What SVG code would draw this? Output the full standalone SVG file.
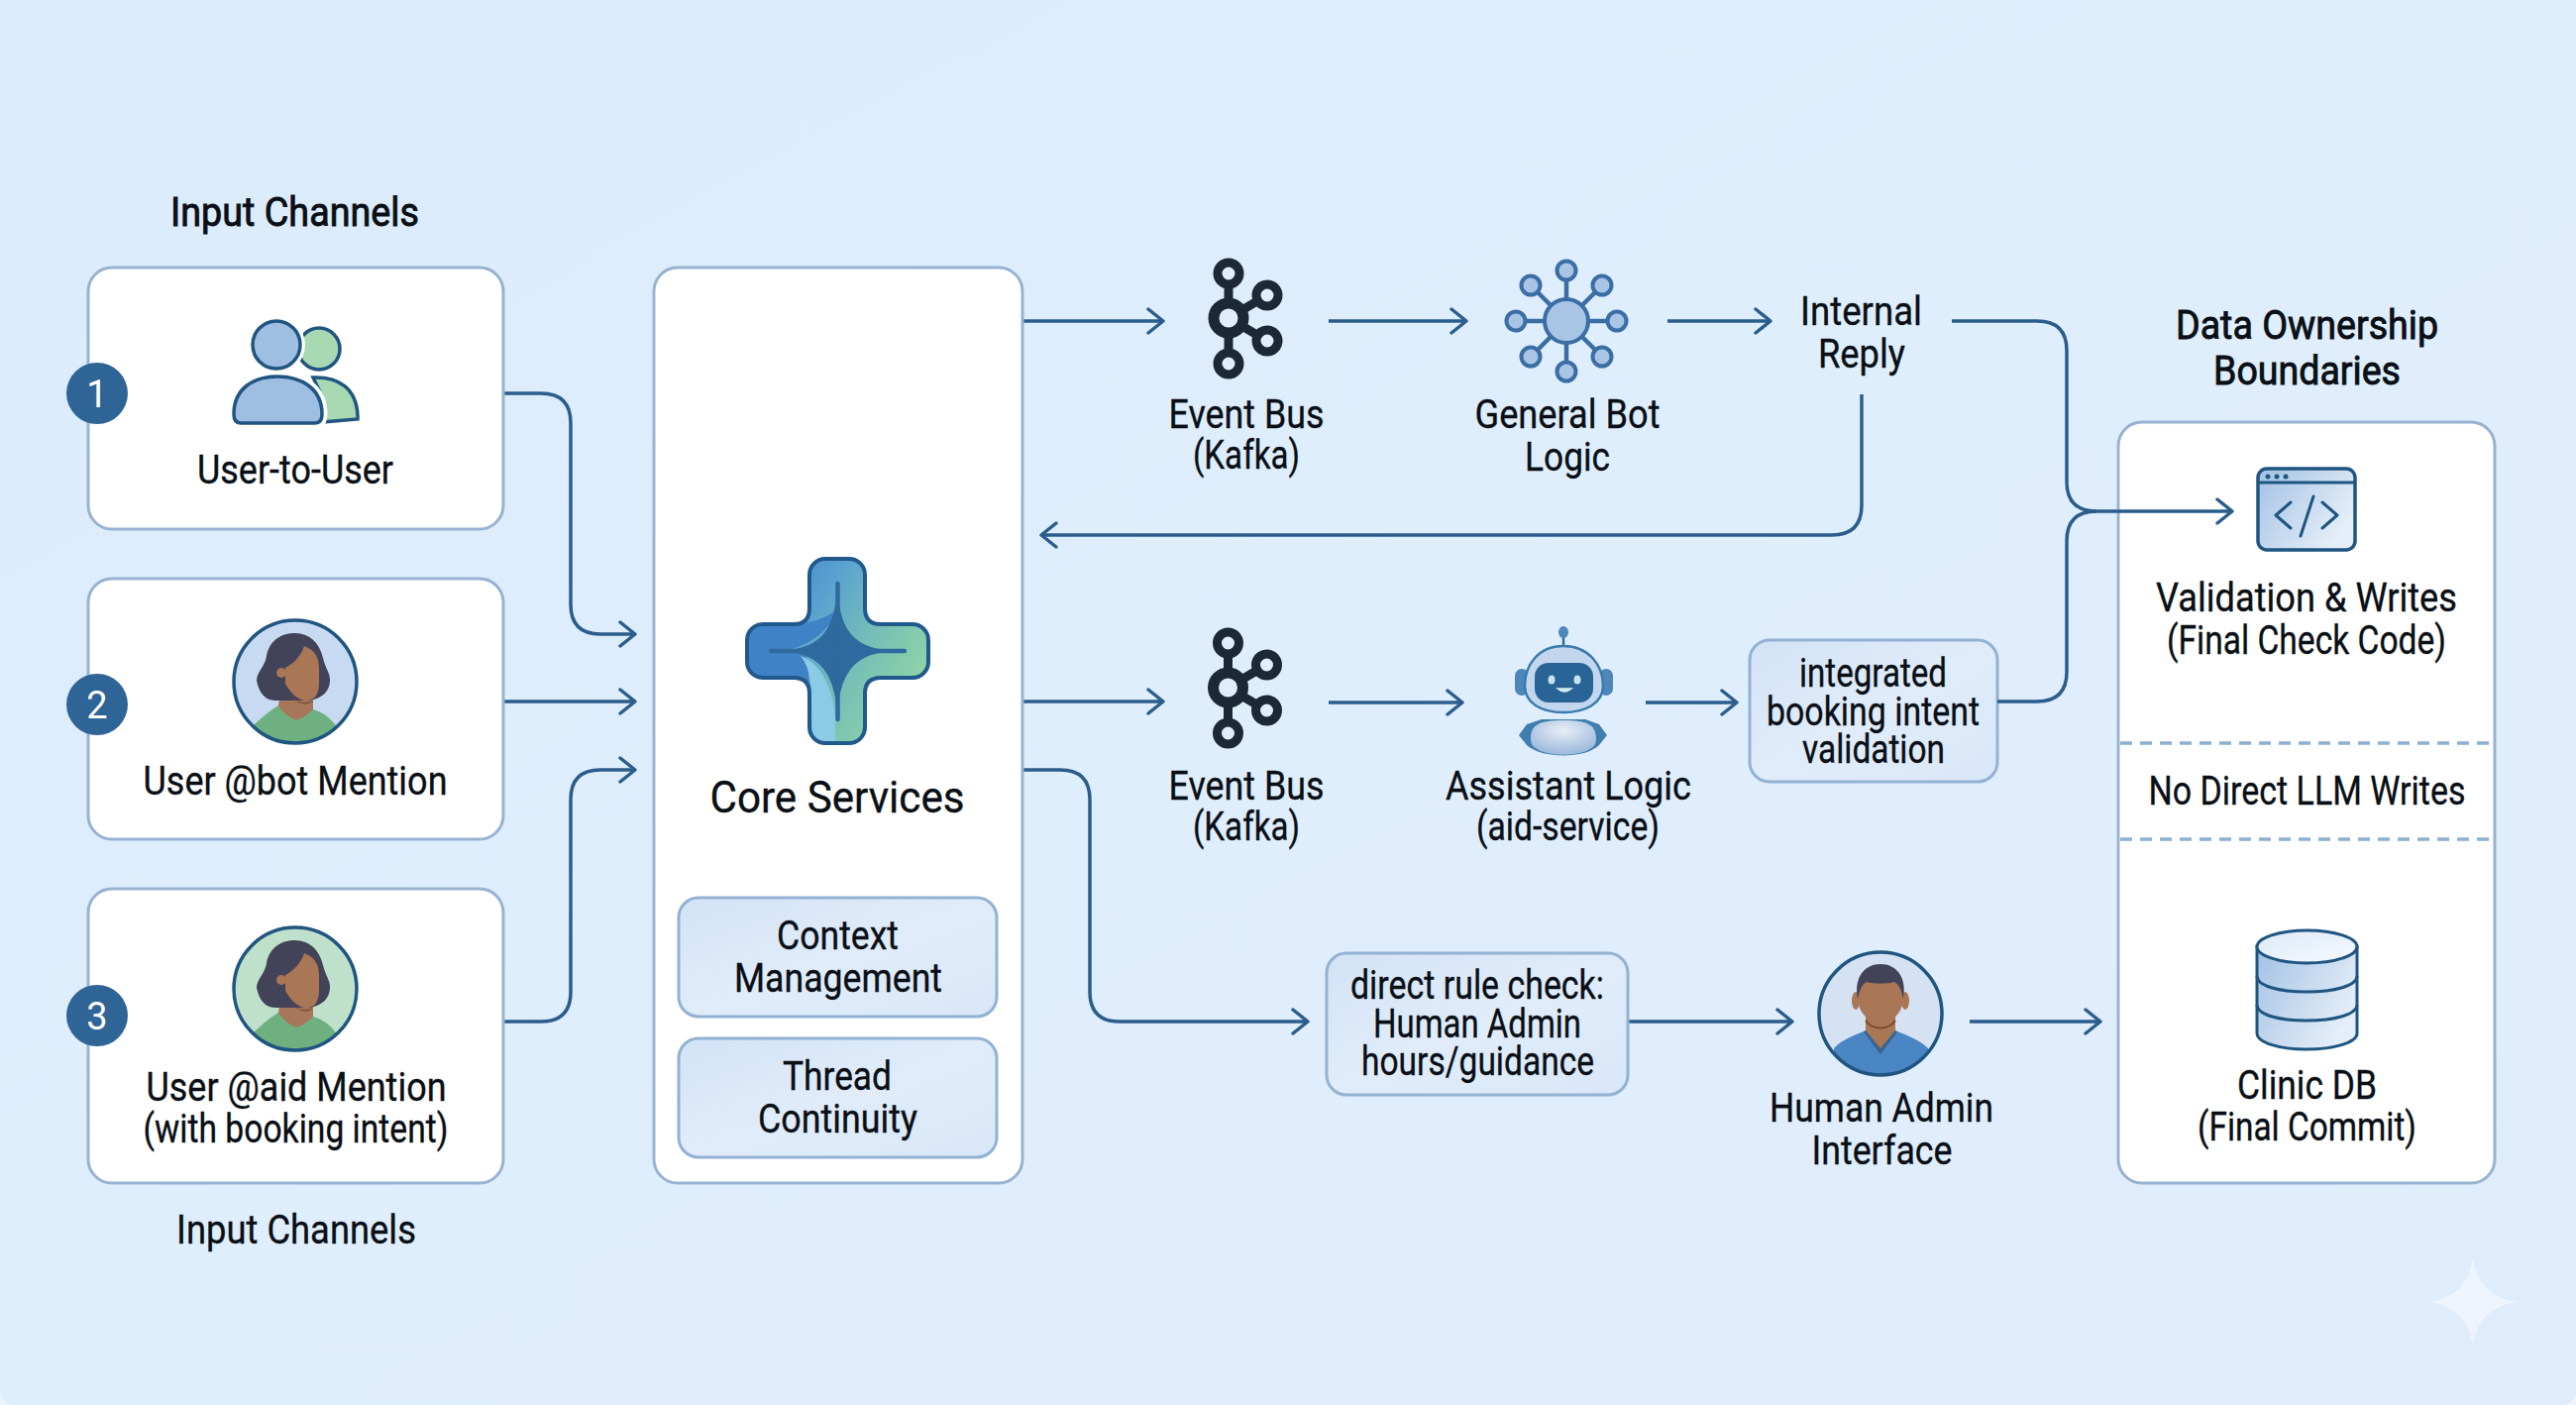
<svg xmlns="http://www.w3.org/2000/svg" width="2600" height="1418" viewBox="0 0 2600 1418">
<style>
text{font-family:Roboto,"Liberation Sans",sans-serif;fill:#0a0f15;stroke:#0a0f15;stroke-width:.35;text-anchor:middle;font-size:41px}
.head{stroke-width:.9}
.card{fill:#fff;stroke:#98b3d1;stroke-width:3}
.soft{fill:url(#soft);stroke:#93b2d3;stroke-width:3}
.c{fill:none;stroke:#2b5d8c;stroke-width:3.5;marker-end:url(#a)}
.p{fill:none;stroke:#2b5d8c;stroke-width:3.5}
.badge{fill:#2f6496}
.badge-t{fill:#fff;stroke:none;font-size:38px}
.k{fill:none;stroke:#1c2836}
.dash{stroke:#8fb0d0;stroke-width:3.5;stroke-dasharray:12 8}
.i{fill:#a9c5e5;stroke:#3a6ea5;stroke-width:4}
.ol{stroke:#1f5580;stroke-width:3.5}
</style>
<defs>
<linearGradient id="bg" x1="0" y1="0" x2="1" y2="1"><stop offset="0" stop-color="#daebfb"/><stop offset="0.5" stop-color="#dfeefd"/><stop offset="1" stop-color="#dfecfc"/></linearGradient>
<linearGradient id="soft" x1="0" y1="0" x2="1" y2="1"><stop offset="0" stop-color="#d2e3f6"/><stop offset="0.5" stop-color="#e0ecfa"/><stop offset="1" stop-color="#d8e7f8"/></linearGradient>
<linearGradient id="cross" x1="0" y1="0.15" x2="1" y2="0.75"><stop offset="0" stop-color="#3c7fc6"/><stop offset="0.35" stop-color="#5aa3d0"/><stop offset="0.6" stop-color="#74bcb8"/><stop offset="1" stop-color="#97daa2"/></linearGradient>
<linearGradient id="ig" x1="0" y1="0" x2="1" y2="0.6"><stop offset="0" stop-color="#a2c1e4"/><stop offset="1" stop-color="#e6eff9"/></linearGradient>
<linearGradient id="top" x1="0" y1="0" x2="1" y2="1"><stop offset="0" stop-color="#dce9f7"/><stop offset="1" stop-color="#f6faff"/></linearGradient>
<radialGradient id="body" cx="0.5" cy="0.3" r="0.8"><stop offset="0" stop-color="#e8eef7"/><stop offset="1" stop-color="#8fb0d6"/></radialGradient>
<marker id="a" viewBox="-18 -15 20 30" refX="0" refY="0" markerWidth="20" markerHeight="30" markerUnits="userSpaceOnUse" orient="auto"><path d="M-15-12 0 0-15 12" fill="none" stroke="#2b5d8c" stroke-width="3.5" stroke-linecap="round" stroke-linejoin="round"/></marker>
<g id="kafka" class="k">
<path d="M0-45V45M0 0 39-23M0 0 39 23" stroke-width="9"/>
<circle r="15" stroke-width="11" fill="#e0edfc"/>
<circle cy="-45" r="11" stroke-width="9" fill="#e0edfc"/>
<circle cy="46" r="11" stroke-width="9" fill="#e0edfc"/>
<circle cx="39" cy="-23" r="11" stroke-width="9" fill="#e0edfc"/>
<circle cx="39" cy="23" r="11" stroke-width="9" fill="#e0edfc"/>
</g>
<clipPath id="av"><circle r="62"/></clipPath>
<clipPath id="crossclip"><path d="M817 580A16 16 0 0 1 833 564H857A16 16 0 0 1 873 580V614Q873 630 889 630H921A16 16 0 0 1 937 646V668A16 16 0 0 1 921 684H889Q873 684 873 700V734A16 16 0 0 1 857 750H833A16 16 0 0 1 817 734V700Q817 684 801 684H770A16 16 0 0 1 754 668V646A16 16 0 0 1 770 630H801Q817 630 817 614Z"/></clipPath>
<g id="woman" clip-path="url(#av)">
<path d="M-44 46C-34 36-24 28-17 24L-15 15H18V28C26 30 36 36 42 46L42 64H-44Z" fill="#6fb080"/>
<path d="M-15 12H18V28C10 36 2 40-2 38C-8 34-14 30-17 24Z" fill="#a8775a"/>
<path d="M0-49C14-49 24-40 28-24C30-14 36-8 35 0C34 10 28 16 15 19H-17C-28 20-36 14-39-1C-39-10-30-16-29-26C-26-42-14-49 0-49Z" fill="#424358"/>
<path d="M9-36C20-32 24-24 24-14V2C24 14 18 20 10 19C2 18-4 12-10 2L-10-14C-2-18 6-26 9-36Z" fill="#a97656"/>
<circle cx="-14" cy="-9" r="5" fill="#a97656"/>
<path d="M-5 15C2 21 8 22 18 19C14 25 4 24-5 15Z" fill="#84593f"/>
</g>
</defs>
<rect width="2600" height="1418" fill="#eef5fd"/>
<path d="M0 0H2600V1404A14 14 0 0 1 2586 1418H14A14 14 0 0 1 0 1404Z" fill="url(#bg)"/>
<path id="sparkle" d="M2496 1269C2500 1296 2514 1310 2541 1314C2514 1318 2500 1332 2496 1359C2492 1332 2478 1318 2451 1314C2478 1310 2492 1296 2496 1269Z" fill="#edf4fd"/>

<g id="connectors">
<path class="c" d="M508 397H546Q576 397 576 427V610Q576 640 606 640H641"/>
<path class="c" d="M508 708H641"/>
<path class="c" d="M508 1031H546Q576 1031 576 1001V807Q576 777 606 777H641"/>
<path class="c" d="M1032 324H1174"/>
<path class="c" d="M1341 324H1480"/>
<path class="c" d="M1683 324H1787"/>
<path class="c" d="M1879 398V510Q1879 540 1849 540H1051"/>
<path class="c" d="M1032 708H1174"/>
<path class="c" d="M1341 709H1476"/>
<path class="c" d="M1661 709H1753"/>
<path class="c" d="M1032 777H1070Q1100 777 1100 807V1001Q1100 1031 1130 1031H1320"/>
<path class="c" d="M1643 1031H1809"/>
<path class="c" d="M1988 1031H2120"/>
</g>

<g id="node-user-to-user">
<rect class="card" x="89" y="270" width="419" height="264" rx="24"/>
<circle cx="322" cy="352" r="21" fill="#a9d9b2" stroke="#1f5580" stroke-width="3.5"/>
<path d="M316 381C342 380 360 392 361 420V423L325 426V400Z" fill="#a9d9b2" stroke="#1f5580" stroke-width="3.5"/>
<circle cx="279" cy="348" r="29" fill="#fff"/>
<circle cx="279" cy="348" r="24" fill="#9fbfe2" class="ol"/>
<path d="M236 418C236 392 256 380 280 380C304 380 325 392 325 418C325 424 323 427 318 427H243C238 427 236 424 236 418Z" fill="#fff" stroke="#fff" stroke-width="11"/>
<path d="M236 418C236 392 256 380 280 380C304 380 325 392 325 418C325 424 323 427 318 427H243C238 427 236 424 236 418Z" fill="#9fbfe2" class="ol"/>
<text x="298" y="488" textLength="198" lengthAdjust="spacingAndGlyphs">User-to-User</text>
</g>
<g id="node-user-bot">
<rect class="card" x="89" y="584" width="419" height="263" rx="24"/>
<g transform="translate(298 688)"><circle r="62" fill="#c8daf1"/><use href="#woman"/><circle r="62" fill="none" stroke="#1f5580" stroke-width="3.5"/></g>
<text x="298" y="802" textLength="307" lengthAdjust="spacingAndGlyphs">User @bot Mention</text>
</g>
<g id="node-user-aid">
<rect class="card" x="89" y="897" width="419" height="297" rx="24"/>
<g transform="translate(298 998)"><circle r="62" fill="#bfe1cb"/><use href="#woman"/><circle r="62" fill="none" stroke="#1f5580" stroke-width="3.5"/></g>
<text x="299" y="1111" textLength="303" lengthAdjust="spacingAndGlyphs">User @aid Mention</text>
<text x="298.500" y="1153" textLength="308" lengthAdjust="spacingAndGlyphs">(with booking intent)</text>
</g>
<g id="badge-1"><circle class="badge" cx="98" cy="397" r="31"/><text class="badge-t" x="98" y="411">1</text></g>
<g id="badge-2"><circle class="badge" cx="98" cy="711" r="31"/><text class="badge-t" x="98" y="725">2</text></g>
<g id="badge-3"><circle class="badge" cx="98" cy="1025" r="31"/><text class="badge-t" x="98" y="1039">3</text></g>
<text id="label-input-top" class="head" x="297.500" y="228" textLength="251" lengthAdjust="spacingAndGlyphs">Input Channels</text>
<text id="label-input-bottom" x="299" y="1255" textLength="242" lengthAdjust="spacingAndGlyphs">Input Channels</text>

<g id="node-core">
<rect class="card" x="660" y="270" width="372" height="924" rx="24"/>
<g clip-path="url(#crossclip)">
<rect x="750" y="560" width="190" height="194" fill="url(#cross)"/>
<path d="M750 630H810C830 625 840 620 848 612C838 632 825 650 790 657H750Z" fill="#3f82c6"/>
<path d="M750 657H812C816 670 818 690 820 754H750Z" fill="#3f82c6"/>
<path d="M808 662C826 668 840 690 843 724L843 754H820C818 700 822 680 808 662Z" fill="#8ccbe6"/>
</g>
<path d="M817 580A16 16 0 0 1 833 564H857A16 16 0 0 1 873 580V614Q873 630 889 630H921A16 16 0 0 1 937 646V668A16 16 0 0 1 921 684H889Q873 684 873 700V734A16 16 0 0 1 857 750H833A16 16 0 0 1 817 734V700Q817 684 801 684H770A16 16 0 0 1 754 668V646A16 16 0 0 1 770 630H801Q817 630 817 614Z" fill="none" stroke="#22598c" stroke-width="4"/>
<path d="M845 602C848 634 860 654 895 657C860 660 848 682 845 712C842 682 830 660 795 657C830 654 842 634 845 602Z" fill="#2f6a9f" stroke="#2f6a9f" stroke-width="2" stroke-linejoin="round"/>
<path d="M845.500 589V726M778 657H913" stroke="#2f6a9f" stroke-width="4.500" stroke-linecap="round" fill="none"/>
<text x="845" y="820" textLength="257" lengthAdjust="spacingAndGlyphs" style="font-size:44px">Core Services</text>
<rect class="soft" x="685" y="906" width="321" height="120" rx="20"/>
<text x="845.500" y="958" textLength="123" lengthAdjust="spacingAndGlyphs">Context</text>
<text x="846" y="1001" textLength="210" lengthAdjust="spacingAndGlyphs">Management</text>
<rect class="soft" x="685" y="1048" width="321" height="120" rx="20"/>
<text x="845" y="1100" textLength="110" lengthAdjust="spacingAndGlyphs">Thread</text>
<text x="845.500" y="1143" textLength="161" lengthAdjust="spacingAndGlyphs">Continuity</text>
</g>

<g id="node-bus-1">
<use href="#kafka" x="1240" y="321"/>
<text x="1258" y="432" textLength="157" lengthAdjust="spacingAndGlyphs">Event Bus</text>
<text x="1258" y="473" textLength="108" lengthAdjust="spacingAndGlyphs">(Kafka)</text>
</g>
<g id="node-general-bot">
<path d="M1581 273V375M1530 324H1632M1545 288 1617 360M1617 288 1545 360" stroke="#3a6ea5" stroke-width="4.500" fill="none"/>
<circle class="i" cx="1581" cy="324" r="22"/>
<circle class="i" cx="1581" cy="273" r="9.500"/><circle class="i" cx="1581" cy="375" r="9.500"/><circle class="i" cx="1530" cy="324" r="9.500"/><circle class="i" cx="1632" cy="324" r="9.500"/>
<circle class="i" cx="1545" cy="288" r="9.500"/><circle class="i" cx="1617" cy="288" r="9.500"/><circle class="i" cx="1545" cy="360" r="9.500"/><circle class="i" cx="1617" cy="360" r="9.500"/>
<text x="1582" y="432" textLength="187" lengthAdjust="spacingAndGlyphs">General Bot</text>
<text x="1582" y="475" textLength="86" lengthAdjust="spacingAndGlyphs">Logic</text>
</g>
<g id="node-internal-reply">
<text x="1878.500" y="328" textLength="123" lengthAdjust="spacingAndGlyphs">Internal</text>
<text x="1879" y="371" textLength="88" lengthAdjust="spacingAndGlyphs">Reply</text>
</g>

<g id="node-bus-2">
<use href="#kafka" x="1239.500" y="694"/>
<text x="1258" y="807" textLength="157" lengthAdjust="spacingAndGlyphs">Event Bus</text>
<text x="1258" y="848" textLength="108" lengthAdjust="spacingAndGlyphs">(Kafka)</text>
</g>
<g id="node-assistant">
<path d="M1578 642V654" stroke="#2f6a9f" stroke-width="2.500"/>
<ellipse cx="1578" cy="638" rx="5" ry="6" fill="#4d86b8"/>
<rect x="1529" y="675" width="14" height="27" rx="7" fill="#4d86b8"/><rect x="1614" y="675" width="14" height="27" rx="7" fill="#4d86b8"/>
<path d="M1578 652C1604 652 1618 672 1618 692C1618 710 1600 719 1578 719C1556 719 1539 710 1539 692C1539 672 1552 652 1578 652Z" fill="#c2d7ee" stroke="#3a7aad" stroke-width="2.500"/>
<rect x="1549" y="669" width="59" height="40" rx="14" fill="#2a6496"/>
<ellipse cx="1566" cy="686" rx="3.500" ry="4.500" fill="#c4e4ee"/><ellipse cx="1592" cy="686" rx="3.500" ry="4.500" fill="#c4e4ee"/>
<path d="M1572 695Q1579 701 1586 695Z" fill="#d4eef0" stroke="#d4eef0" stroke-width="1.500"/>
<path d="M1533 742 1541 731 1556 726H1600L1614 731 1622 742 1614 752C1600 766 1556 766 1541 752Z" fill="#3f7eaf"/>
<path d="M1545 745C1545 732 1553 727 1578 727C1603 727 1611 732 1611 745C1611 750 1610 753 1606 755C1596 764 1560 764 1550 755C1546 753 1545 750 1545 745Z" fill="url(#body)"/>
<text x="1583" y="807" textLength="248" lengthAdjust="spacingAndGlyphs">Assistant Logic</text>
<text x="1582.500" y="848" textLength="185" lengthAdjust="spacingAndGlyphs">(aid-service)</text>
</g>
<g id="node-integrated">
<rect class="soft" x="1766" y="646" width="250" height="143" rx="20"/>
<text x="1890.500" y="693" textLength="149" lengthAdjust="spacingAndGlyphs">integrated</text>
<text x="1890.500" y="732" textLength="215" lengthAdjust="spacingAndGlyphs">booking intent</text>
<text x="1891" y="770" textLength="144" lengthAdjust="spacingAndGlyphs">validation</text>
</g>
<g id="node-rule-check">
<rect class="soft" x="1339" y="962" width="304" height="143" rx="20"/>
<text x="1491" y="1008" textLength="256" lengthAdjust="spacingAndGlyphs">direct rule check:</text>
<text x="1491" y="1047" textLength="210" lengthAdjust="spacingAndGlyphs">Human Admin</text>
<text x="1491.500" y="1085" textLength="235" lengthAdjust="spacingAndGlyphs">hours/guidance</text>
</g>
<g id="node-human-admin">
<clipPath id="adm"><circle cx="1898" cy="1023" r="62"/></clipPath>
<circle cx="1898" cy="1023" r="62" fill="#d5e2f3"/>
<g clip-path="url(#adm)">
<path d="M1851 1058C1860 1048 1875 1044 1883 1040H1913C1921 1044 1936 1048 1946 1058V1090H1851Z" fill="#4a85c4"/>
<path d="M1883 1040 1898 1060 1913 1040" fill="none" stroke="#3a648f" stroke-width="5"/>
<path d="M1883 1020H1913V1040L1898 1058 1883 1040Z" fill="#a97656"/>
<path d="M1883 1030C1890 1040 1906 1040 1913 1030" fill="none" stroke="#7a4a30" stroke-width="2"/>
<ellipse cx="1873" cy="1010" rx="4" ry="9" fill="#a97656"/><ellipse cx="1923" cy="1010" rx="4" ry="9" fill="#a97656"/>
<path d="M1876 1000C1876 985 1885 980 1898 980C1911 980 1920 985 1920 1000V1012C1920 1024 1906 1033 1898 1033C1890 1033 1876 1024 1876 1012Z" fill="#a97656"/>
<path d="M1875 1008C1871 986 1882 973 1898 973C1914 973 1925 986 1921 1008C1919 998 1916 993 1912 991C1904 993 1892 993 1884 991C1880 993 1877 998 1875 1008Z" fill="#424358"/>
</g>
<circle cx="1898" cy="1023" r="62" fill="none" stroke="#1f5580" stroke-width="3.500"/>
<text x="1899" y="1132" textLength="226" lengthAdjust="spacingAndGlyphs">Human Admin</text>
<text x="1899.500" y="1175" textLength="142" lengthAdjust="spacingAndGlyphs">Interface</text>
</g>

<text id="label-ownership-1" class="head" x="2328.500" y="342" textLength="265" lengthAdjust="spacingAndGlyphs">Data Ownership</text>
<text id="label-ownership-2" class="head" x="2328.500" y="388" textLength="189" lengthAdjust="spacingAndGlyphs">Boundaries</text>
<g id="node-data">
<rect class="card" x="2138" y="426" width="380" height="768" rx="24"/>
<path class="dash" d="M2140 750H2516M2140 847H2516"/>
<text x="2328" y="617" textLength="304" lengthAdjust="spacingAndGlyphs">Validation &amp; Writes</text>
<text x="2328" y="660" textLength="282" lengthAdjust="spacingAndGlyphs">(Final Check Code)</text>
<text x="2328.500" y="812" textLength="320" lengthAdjust="spacingAndGlyphs">No Direct LLM Writes</text>
<rect x="2279" y="473" width="98" height="82" rx="9" fill="url(#ig)" stroke="#1f5580" stroke-width="3.500"/>
<path d="M2279 487H2377" stroke="#1f5580" stroke-width="3"/>
<circle cx="2289" cy="481" r="2.500" fill="#1f5580"/><circle cx="2298" cy="481" r="2.500" fill="#1f5580"/><circle cx="2307" cy="481" r="2.500" fill="#1f5580"/>
<path d="M2312 507 2297 520 2312 533M2344 507 2359 520 2344 533M2335 501 2322 541" fill="none" stroke="#1f5580" stroke-width="3" stroke-linecap="round" stroke-linejoin="round"/>
<path d="M2278 955V1043C2278 1052 2300 1059 2328 1059C2356 1059 2379 1052 2379 1043V955Z" fill="url(#ig)" stroke="#1f5580" stroke-width="3"/>
<path d="M2278 985C2278 995 2300 1001 2328 1001C2356 1001 2379 995 2379 985M2278 1014C2278 1024 2300 1030 2328 1030C2356 1030 2379 1024 2379 1014" fill="none" stroke="#1f5580" stroke-width="3"/>
<ellipse cx="2328.500" cy="955.500" rx="50.500" ry="16.500" fill="url(#top)" stroke="#1f5580" stroke-width="3"/>
<text x="2328.500" y="1109" textLength="141" lengthAdjust="spacingAndGlyphs">Clinic DB</text>
<text x="2328.500" y="1151" textLength="221" lengthAdjust="spacingAndGlyphs">(Final Commit)</text>
</g>
<g id="connectors-over-data">
<path class="p" d="M1970 324H2056Q2086 324 2086 354V486Q2086 516 2116 516"/>
<path class="p" d="M2016 708H2056Q2086 708 2086 678V546Q2086 516 2116 516"/>
<path class="c" d="M2116 516H2253"/>
</g>
</svg>
